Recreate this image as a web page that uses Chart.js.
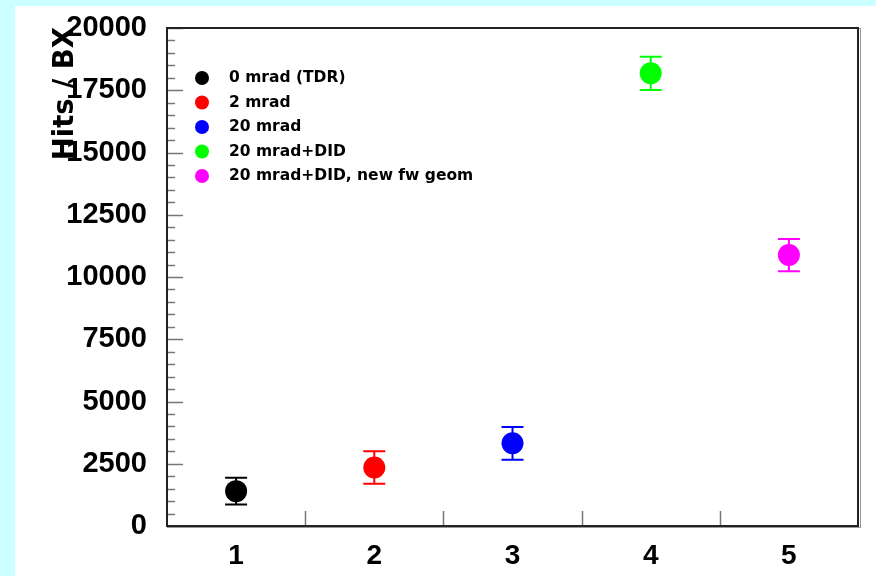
<!DOCTYPE html>
<html>
<head>
<meta charset="utf-8">
<script src="https://cdn.jsdelivr.net/npm/chart.js@4.4.0/dist/chart.umd.min.js"></script>
<style>
  html, body { margin: 0; padding: 0; background: #ccffff; }
  #panel { position: absolute; left: 15px; top: 6px; width: 861px; height: 570px; background: #ffffff; }
  #wrap { position: absolute; left: 0; top: 0; width: 876px; height: 576px; }
</style>
</head>
<body>
<div id="panel"></div>
<div id="wrap"><canvas id="hits_chart" width="876" height="576"></canvas></div>
<script>
// values
const cats = [1, 2, 3, 4, 5];
const names = ['0 mrad (TDR)', '2 mrad', '20 mrad', '20 mrad+DID', '20 mrad+DID, new fw geom'];
const colors = ['#000000', '#ff0000', '#0000ff', '#00ff00', '#ff00ff'];
const hits = [1400, 2350, 3320, 18180, 10880];
const hitErr = [540, 650, 660, 670, 650];
const yTitle = 'Hits / BX';

const FONT = '"DejaVu Sans", sans-serif';
const TICKFONT = '"Liberation Sans", Arial, sans-serif';

// ROOT-like frame, inward ticks, error bars, legend and axis title
const rootStyle = {
  id: 'rootStyle',
  beforeDatasetsDraw(chart) {
    const ctx = chart.ctx, a = chart.chartArea;
    const xs = chart.scales.x, ys = chart.scales.y;
    ctx.save();
    // ticks
    ctx.strokeStyle = '#777777';
    ctx.lineWidth = 1.5;
    for (let v = ys.min; v <= ys.max; v += 500) {
      const py = Math.round(ys.getPixelForValue(v)) + 0.5;
      const len = (v % 2500 === 0) ? 16 : 8;
      ctx.beginPath();
      ctx.moveTo(a.left, py);
      ctx.lineTo(a.left + len, py);
      ctx.stroke();
    }
    for (let i = 0; i < cats.length - 1; i++) {
      const px = Math.round(xs.getPixelForValue(cats[i] + 0.5)) + 0.5;
      ctx.beginPath();
      ctx.moveTo(px, a.bottom);
      ctx.lineTo(px, a.bottom - 15);
      ctx.stroke();
    }
    // frame
    ctx.strokeStyle = '#999999';
    ctx.lineWidth = 1;
    ctx.strokeRect(a.left + 0.5, a.top + 0.5, a.right - a.left + 2, a.bottom - a.top + 1);
    ctx.strokeStyle = '#222222';
    ctx.lineWidth = 2;
    ctx.strokeRect(a.left, a.top, a.right - a.left, a.bottom - a.top);
    // error bars
    ctx.lineWidth = 2;
    hits.forEach((v, i) => {
      const px = xs.getPixelForValue(cats[i]);
      const top = ys.getPixelForValue(v + hitErr[i]);
      const bot = ys.getPixelForValue(v - hitErr[i]);
      ctx.strokeStyle = colors[i];
      ctx.beginPath();
      ctx.moveTo(px, top); ctx.lineTo(px, bot);
      ctx.moveTo(px - 11, top); ctx.lineTo(px + 11, top);
      ctx.moveTo(px - 11, bot); ctx.lineTo(px + 11, bot);
      ctx.stroke();
    });
    ctx.restore();
  },
  afterDraw(chart) {
    const ctx = chart.ctx, a = chart.chartArea;
    ctx.save();
    // legend
    ctx.font = 'bold 15.5px ' + FONT;
    ctx.textBaseline = 'middle';
    ctx.textAlign = 'left';
    names.forEach((n, i) => {
      const cy = a.top + 50 + i * 24.5;
      ctx.fillStyle = colors[i];
      ctx.beginPath();
      ctx.arc(a.left + 35, cy, 7, 0, Math.PI * 2);
      ctx.fill();
      ctx.fillStyle = '#000000';
      ctx.fillText(n, a.left + 62, cy);
    });
    // y title
    ctx.translate(73, a.top - 1);
    ctx.rotate(-Math.PI / 2);
    ctx.font = 'bold 27.5px ' + FONT;
    ctx.textAlign = 'right';
    ctx.textBaseline = 'alphabetic';
    ctx.fillText(yTitle, 0, 0);
    ctx.restore();
  }
};

const datasets = names.map((n, i) => ({
  label: n,
  data: [{ x: cats[i], y: hits[i] }],
  backgroundColor: colors[i],
  borderColor: colors[i],
  pointRadius: 11,
  pointHoverRadius: 11,
  borderWidth: 0
}));

new Chart(document.getElementById('hits_chart').getContext('2d'), {
  type: 'scatter',
  data: { datasets: datasets },
  options: {
    responsive: false,
    animation: false,
    layout: { padding: { left: 0, top: 28, right: 18, bottom: 0 } },
    plugins: { legend: { display: false }, tooltip: { enabled: false }, title: { display: false } },
    scales: {
      x: {
        type: 'linear',
        min: 0.5,
        max: 5.5,
        afterBuildTicks: (axis) => { axis.ticks = cats.map(v => ({ value: v })); },
        afterFit: (axis) => { axis.height = 50; axis.paddingLeft = 0; axis.paddingRight = 0; },
        grid: { display: false },
        border: { display: false },
        ticks: { color: '#000000', padding: 5, callback: (v) => String(v), font: { family: TICKFONT, size: 28, weight: 'bold' } }
      },
      y: {
        min: 0,
        max: 20000,
        afterFit: (axis) => { axis.width = 167; axis.paddingTop = 0; axis.paddingBottom = 0; },
        grid: { display: false },
        border: { display: false },
        ticks: { stepSize: 2500, color: '#000000', padding: 12, callback: (v) => String(v), font: { family: TICKFONT, size: 29, weight: 'bold' } }
      }
    }
  },
  plugins: [rootStyle]
});
</script>
</body>
</html>
